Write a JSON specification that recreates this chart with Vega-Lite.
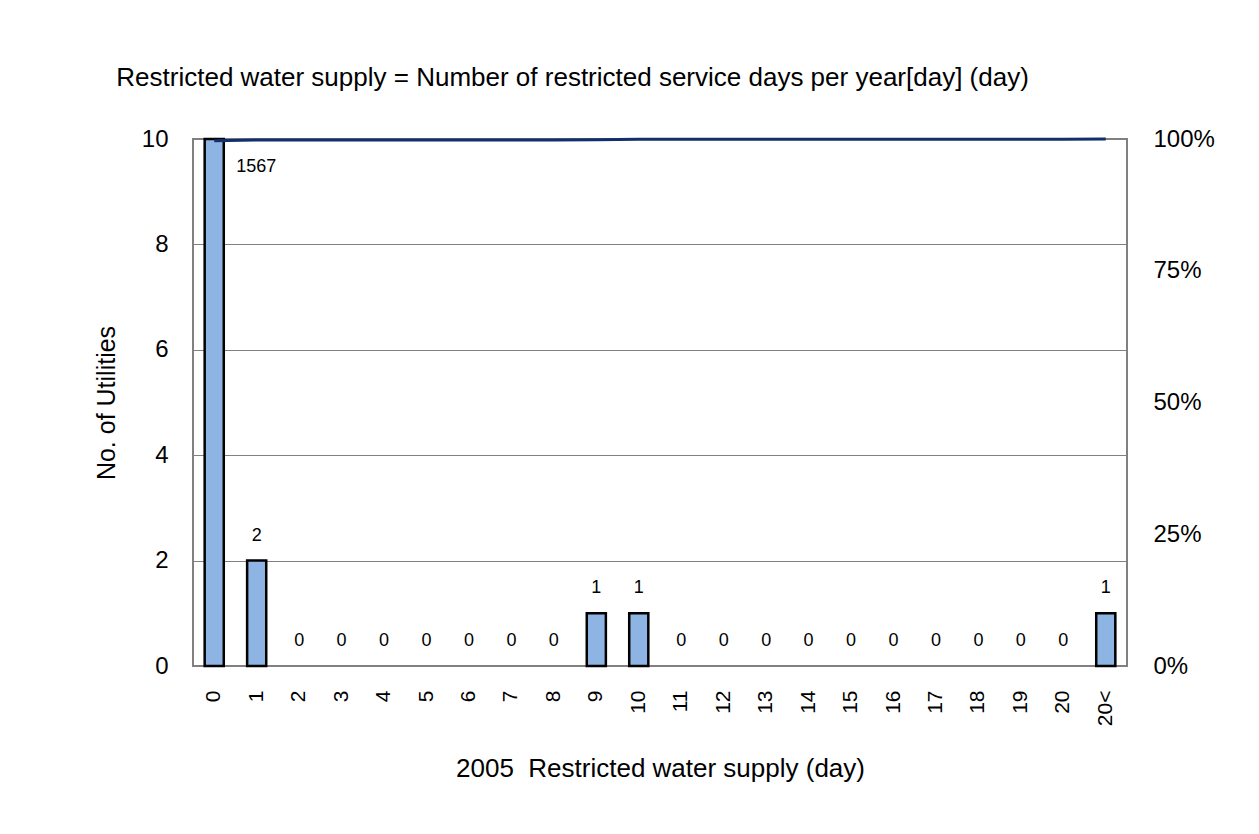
{
  "$schema": "https://vega.github.io/schema/vega-lite/v6.json",
  "autosize": "none",
  "width": 934,
  "height": 527,
  "padding": {"left": 193, "top": 139, "right": 132, "bottom": 168},
  "background": "white",
  "config": {
    "font": "Liberation Sans",
    "view": {"stroke": "#808080", "strokeWidth": 2},
    "axis": {"labelFont": "Liberation Sans", "titleFont": "Liberation Sans", "labelColor": "black", "titleColor": "black", "titleFontWeight": "normal"}
  },
  "title": {
    "text": "Restricted water supply = Number of restricted service days per year[day] (day)",
    "anchor": "start",
    "dx": 22,
    "offset": 36,
    "fontSize": 26,
    "fontWeight": "normal",
    "font": "Liberation Sans",
    "color": "black"
  },
  "data": {
    "values": [
      {"day": "0", "count": 1567, "cum": 0.9968},
      {"day": "1", "count": 2, "cum": 0.9981},
      {"day": "2", "count": 0, "cum": 0.9981},
      {"day": "3", "count": 0, "cum": 0.9981},
      {"day": "4", "count": 0, "cum": 0.9981},
      {"day": "5", "count": 0, "cum": 0.9981},
      {"day": "6", "count": 0, "cum": 0.9981},
      {"day": "7", "count": 0, "cum": 0.9981},
      {"day": "8", "count": 0, "cum": 0.9981},
      {"day": "9", "count": 1, "cum": 0.9987},
      {"day": "10", "count": 1, "cum": 0.9994},
      {"day": "11", "count": 0, "cum": 0.9994},
      {"day": "12", "count": 0, "cum": 0.9994},
      {"day": "13", "count": 0, "cum": 0.9994},
      {"day": "14", "count": 0, "cum": 0.9994},
      {"day": "15", "count": 0, "cum": 0.9994},
      {"day": "16", "count": 0, "cum": 0.9994},
      {"day": "17", "count": 0, "cum": 0.9994},
      {"day": "18", "count": 0, "cum": 0.9994},
      {"day": "19", "count": 0, "cum": 0.9994},
      {"day": "20", "count": 0, "cum": 0.9994},
      {"day": "20<", "count": 1, "cum": 1.0}
    ]
  },
  "encoding": {
    "x": {
      "field": "day",
      "type": "ordinal",
      "sort": ["0", "1", "2", "3", "4", "5", "6", "7", "8", "9", "10", "11", "12", "13", "14", "15", "16", "17", "18", "19", "20", "20<"],
      "scale": {"paddingInner": 0.55, "paddingOuter": 0.275},
      "axis": {
        "title": "2005\u00a0\u00a0Restricted water supply (day)",
        "titleFontSize": 26,
        "titlePadding": 30,
        "labelAngle": -90,
        "labelFontSize": 21,
        "labelPadding": 24,
        "ticks": false,
        "domain": false,
        "labelBaseline": "middle",
        "labelAlign": "right"
      }
    }
  },
  "layer": [
    {
      "layer": [
        {
          "transform": [{"filter": "datum.count > 0"}],
          "mark": {"type": "bar", "fill": "#8DB4E2", "stroke": "black", "strokeWidth": 2.5},
          "encoding": {
            "y": {
              "field": "count",
              "type": "quantitative",
              "scale": {"domain": [0, 10], "clamp": true, "nice": false},
              "axis": {
                "title": "No. of Utilities",
                "titleFontSize": 25,
                "titlePadding": 22,
                "values": [0, 2, 4, 6, 8, 10],
                "labelFontSize": 24,
                "labelPadding": 25,
                "ticks": false,
                "domain": false,
                "grid": true,
                "gridColor": "#808080",
                "gridWidth": 1
              }
            }
          }
        },
        {
          "transform": [{"filter": "datum.count <= 10"}],
          "mark": {"type": "text", "fontSize": 18, "dy": -25, "color": "black"},
          "encoding": {
            "y": {"field": "count", "type": "quantitative"},
            "text": {"field": "count", "type": "quantitative"}
          }
        },
        {
          "transform": [{"filter": "datum.count > 10"}],
          "mark": {"type": "text", "fontSize": 18, "dx": 42, "dy": 28, "color": "black"},
          "encoding": {
            "y": {"field": "count", "type": "quantitative"},
            "text": {"field": "count", "type": "quantitative"}
          }
        }
      ]
    },
    {
      "mark": {"type": "line", "color": "#132F6B", "strokeWidth": 3},
      "encoding": {
        "y": {
          "field": "cum",
          "type": "quantitative",
          "scale": {"domain": [0, 1], "nice": false},
          "axis": {
            "orient": "right",
            "title": null,
            "format": ".0%",
            "values": [0, 0.25, 0.5, 0.75, 1],
            "labelFontSize": 24,
            "labelPadding": 26,
            "ticks": false,
            "domain": false,
            "grid": false
          }
        }
      }
    }
  ],
  "resolve": {"scale": {"y": "independent"}}
}
